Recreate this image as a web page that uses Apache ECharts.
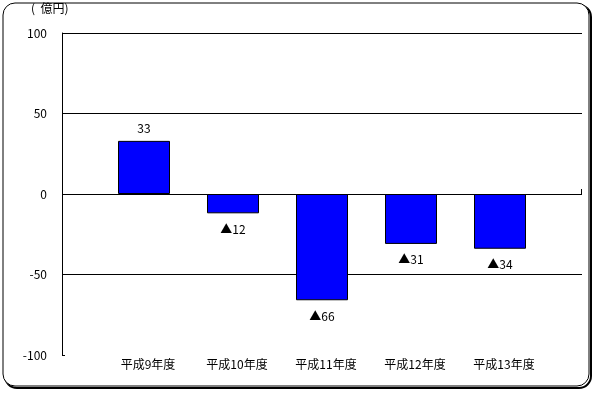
<!DOCTYPE html>
<html><head><meta charset="utf-8">
<script src="https://cdn.jsdelivr.net/npm/echarts@6/dist/echarts.min.js"></script>
<style>html,body{margin:0;padding:0;background:#fff}#c{width:595px;height:393px}</style>
</head><body><div id="c"></div>
<script>
var categories = ['平成9年度','平成10年度','平成11年度','平成12年度','平成13年度'];
var values = [33, -12, -66, -31, -34];
var yTicks = [-100, -50, 0, 50, 100];
var unitLabel = '(  億円)';

var FONT = '"Noto Sans CJK JP", sans-serif';
var chart = echarts.init(document.getElementById('c'));
chart.setOption({
  animation: false,
  backgroundColor: '#fff',
  graphic: [
    {type:'rect', z:-10, shape:{x:5,y:5,width:586,height:383,r:12}, style:{fill:'none',stroke:'#000',lineWidth:2}},
    {type:'rect', z:-9, shape:{x:3,y:3,width:586,height:383,r:12}, style:{fill:'#fff',stroke:'#000',lineWidth:1}},
    {type:'text', left:31, top:2, style:{text:unitLabel, font:'12px '+FONT, fill:'#000'}},
    {type:'line', z:5, shape:{x1:581.5,y1:189,x2:581.5,y2:194}, style:{stroke:'#000',lineWidth:1}}
  ],
  grid: [
    {left:62, right:13, top:33, bottom:38},
    {left:99.5, width:445, top:33, bottom:38}
  ],
  xAxis: [
    {gridIndex:0, type:'value', min:0, max:1, position:'bottom',
     axisLine:{show:false}, axisTick:{show:false}, axisLabel:{show:false}, splitLine:{show:false}},
    {gridIndex:1, type:'category', data:categories, position:'bottom',
     axisLine:{show:false}, axisTick:{show:false},
     axisLabel:{margin:3, fontSize:12, color:'#000', fontFamily:FONT, padding:[0,0,0,8]}}
  ],
  yAxis: [
    {gridIndex:0, type:'value', min:yTicks[0], max:yTicks[yTicks.length-1], interval:50,
     axisLine:{show:true, lineStyle:{color:'#000', width:1}},
     axisTick:{show:true, inside:true, length:3, lineStyle:{color:'#000'}},
     axisLabel:{margin:15, fontSize:12, color:'#000', fontFamily:FONT},
     splitLine:{show:true, lineStyle:{color:['rgba(0,0,0,0)','#000','#000','#000','#000'], width:1}}},
    {gridIndex:1, type:'value', min:yTicks[0], max:yTicks[yTicks.length-1], interval:50,
     axisLine:{show:false}, axisTick:{show:false}, axisLabel:{show:false}, splitLine:{show:false}}
  ],
  series: [{
    type:'bar', xAxisIndex:1, yAxisIndex:1, barWidth:52,
    data: values.map(function(v){
      return {value:v, label:{position: v<0?'bottom':'top', distance: v<0?10:6}};
    }),
    itemStyle:{color:'#0000FF', borderColor:'#000', borderWidth:1},
    label:{show:true, fontSize:12, color:'#000', fontFamily:FONT,
      formatter:function(p){return p.value<0 ? '▲'+Math.abs(p.value) : String(p.value);}}
  }]
});
</script></body></html>
